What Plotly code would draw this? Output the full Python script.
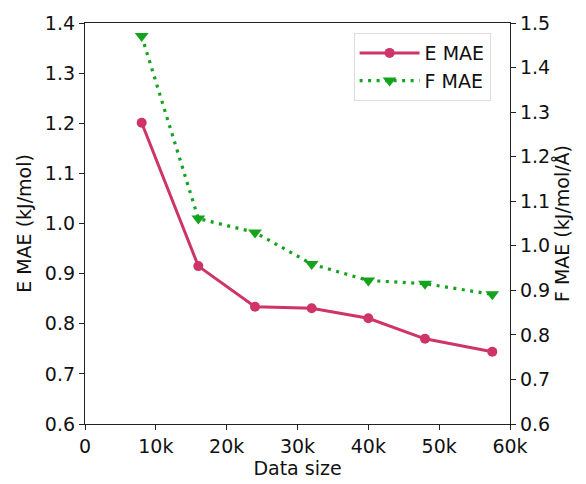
import plotly.graph_objects as go

data_size = [8000, 16000, 24000, 32000, 40000, 48000, 57500]
e_mae = [1.201, 0.915, 0.834, 0.831, 0.811, 0.770, 0.744]
f_mae = [1.471, 1.061, 1.030, 0.959, 0.922, 0.915, 0.891]
x_ticks = [0, 10000, 20000, 30000, 40000, 50000, 60000]
x_ticklabels = ["0", "10k", "20k", "30k", "40k", "50k", "60k"]

E_COLOR = "#cf3468"
F_COLOR = "#14a31c"
FONT = "DejaVu Sans"
FS = 19

fig = go.Figure()
fig.add_trace(go.Scatter(x=data_size, y=e_mae, name="E MAE", mode="lines+markers",
                         line=dict(color=E_COLOR, width=3),
                         marker=dict(symbol="circle", size=10, color=E_COLOR)))
fig.add_trace(go.Scatter(x=data_size, y=f_mae, name="F MAE", mode="lines+markers", yaxis="y2",
                         line=dict(color=F_COLOR, width=3.2, dash="3px,5.5px"),
                         marker=dict(symbol="triangle-down", size=12, color=F_COLOR)))

axis_common = dict(showgrid=False, zeroline=False, showline=True, linecolor="#222",
                   linewidth=1.3, ticks="outside", ticklen=5, tickcolor="#222",
                   tickfont=dict(family=FONT, size=FS, color="#111"))

fig.update_layout(
    width=586, height=484,
    margin=dict(l=85, r=76, t=22, b=56),
    paper_bgcolor="white", plot_bgcolor="white",
    font=dict(family=FONT, size=FS, color="#111"),
    xaxis=dict(range=[0, 60000], tickvals=x_ticks, ticktext=x_ticklabels, mirror=True,
               title=dict(text="Data size", font=dict(family=FONT, size=FS), standoff=2),
               **axis_common),
    yaxis=dict(range=[0.6, 1.4], dtick=0.1, tickformat=".1f",
               title=dict(text="E MAE (kJ/mol)", font=dict(family=FONT, size=FS), standoff=8),
               **axis_common),
    yaxis2=dict(range=[0.6, 1.5], dtick=0.1, tickformat=".1f", overlaying="y", side="right",
                title=dict(text="F MAE (kJ/mol/Å)", font=dict(family=FONT, size=FS), standoff=6),
                **axis_common),
    legend=dict(x=0.632, y=0.975, xanchor="left", yanchor="top",
                bgcolor="white", bordercolor="#ddd", borderwidth=1,
                font=dict(family=FONT, size=FS), itemwidth=60, tracegroupgap=6),
    showlegend=True,
)

fig.write_html("out.html")
